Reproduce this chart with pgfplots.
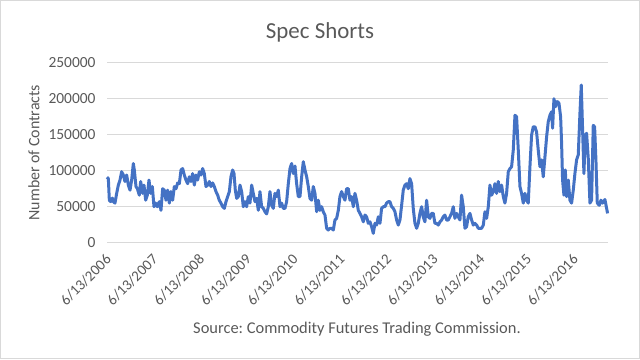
\documentclass[border=0pt]{standalone}
\usepackage{pgfplots}
\pgfplotsset{compat=1.18}
\usepackage{fontspec}
\setmainfont{Carlito}
\frenchspacing
\definecolor{exblue}{HTML}{4472C4}
\definecolor{txt}{HTML}{595959}
\definecolor{gridc}{HTML}{D9D9D9}
\begin{document}
\begin{tikzpicture}[x=1bp,y=1bp]
\useasboundingbox (0,0) rectangle (640,359);
\draw[gridc, line width=1bp] (0.5,0.5) rectangle (639.5,358.5);
\begin{axis}[
  at={(107bp,116.3bp)}, anchor=south west,
  scale only axis, width=501bp, height=180bp,
  xmin=0, xmax=10.73, ymin=0, ymax=250000,
  axis line style={draw=none},
  ytick={0,50000,100000,150000,200000,250000},
  ymajorgrids, grid style={gridc, line width=1bp},
  xtick={0,1,2,3,4,5,6,7,8,9,10},
  xticklabels={6/13/2006,6/13/2007,6/13/2008,6/13/2009,6/13/2010,6/13/2011,6/13/2012,6/13/2013,6/13/2014,6/13/2015,6/13/2016},
  major tick length=0pt,
  scaled y ticks=false,
  /pgf/number format/.cd, fixed, precision=0, 1000 sep={}, assume math mode=true, /pgfplots/.cd,
  yticklabel style={font=\fontsize{15.5}{18}\selectfont, text=txt, xshift=-8bp},
  xticklabel style={font=\fontsize{15}{18}\selectfont, text=txt, xshift=4bp, yshift=-12bp, rotate=45, anchor=east},
  clip=false,
]
\addplot[exblue, line width=3bp, line join=round] coordinates {
(0,91000)(0.029,89000)(0.050,59000)(0.079,57000)(0.114,62000)(0.136,57000)(0.171,55000)(0.207,68500)(0.243,80000)(0.278,87000)
(0.314,98600)(0.350,94000)(0.385,85000)(0.421,94000)(0.457,80000)(0.493,73000)(0.528,87000)(0.564,110000)(0.585,101000)(0.621,78000)
(0.650,75000)(0.692,66000)(0.721,85000)(0.764,68500)(0.792,80000)(0.828,59000)(0.864,66000)(0.899,87000)(0.935,68500)(0.971,78000)
(1.006,50000)(1.042,55000)(1.078,50000)(1.121,57000)(1.156,45000)(1.192,75000)(1.228,73000)(1.263,59000)(1.299,73000)(1.335,55000)
(1.370,71000)(1.406,59000)(1.442,78000)(1.478,75000)(1.513,83000)(1.549,82000)(1.585,101000)(1.620,103000)(1.656,94000)(1.692,87000)
(1.727,82000)(1.763,91600)(1.799,85000)(1.834,96000)(1.870,80000)(1.906,94000)(1.941,87000)(1.977,98600)(2.013,94000)(2.049,103000)
(2.084,96000)(2.120,78000)(2.156,80000)(2.191,85000)(2.227,78000)(2.263,83000)(2.298,78000)(2.334,71000)(2.370,66000)(2.405,59000)
(2.441,55000)(2.477,50000)(2.513,47700)(2.548,57000)(2.584,64000)(2.620,71000)(2.655,91600)(2.691,101000)(2.720,96000)(2.748,73000)
(2.777,61600)(2.812,64000)(2.848,80000)(2.884,71000)(2.919,50000)(2.955,57000)(2.991,50000)(3.026,64000)(3.062,55000)(3.098,80000)
(3.133,68500)(3.169,57000)(3.205,61600)(3.241,45000)(3.276,71000)(3.312,50000)(3.348,47700)(3.383,43000)(3.419,40000)(3.455,50000)
(3.490,71000)(3.526,52000)(3.562,47700)(3.597,68500)(3.633,64000)(3.669,73000)
(3.705,50000)(3.740,55000)(3.776,47700)(3.812,47700)(3.847,57000)(3.883,82000)(3.919,103000)(3.954,110000)(3.990,96000)(4.026,106500)
(4.061,82000)(4.097,64000)(4.133,64000)(4.169,91600)(4.204,112500)(4.240,101000)(4.276,91600)(4.311,78000)(4.347,61600)(4.383,59000)
(4.418,78000)(4.454,68500)(4.490,43000)(4.525,59000)(4.561,45000)(4.597,50000)(4.632,43000)(4.668,38400)(4.704,20000)(4.740,17600)
(4.775,20000)(4.811,20000)(4.847,17600)(4.882,31500)(4.918,33800)(4.954,45000)(4.989,64000)(5.025,71000)(5.061,64000)(5.096,59000)
(5.132,75000)(5.168,75000)(5.203,59000)(5.239,64000)(5.275,50000)(5.310,68500)(5.346,59000)(5.382,45000)(5.418,40700)(5.453,36000)
(5.489,29000)(5.525,38400)(5.560,36000)(5.596,26900)(5.632,29000)(5.667,22200)(5.703,13000)(5.739,26900)(5.774,24500)(5.810,36000)
(5.846,26900)(5.881,47700)(5.917,50000)(5.953,50000)(5.988,55000)(6.024,57000)(6.060,57000)(6.096,50000)(6.131,47700)(6.167,43000)
(6.203,31500)(6.238,24500)(6.274,31500)(6.310,52000)(6.345,73000)(6.381,80000)(6.417,82000)(6.452,75000)(6.488,89000)(6.524,82000)
(6.559,47700)(6.595,26900)(6.631,20000)(6.666,26900)(6.702,40700)(6.738,50000)(6.773,36000)(6.809,29000)(6.845,59000)(6.881,36000)
(6.916,33800)(6.952,40700)(6.988,40700)(7.023,26900)(7.059,26900)(7.095,24500)(7.130,29000)(7.166,31500)(7.202,36000)(7.237,38400)
(7.273,31500)(7.309,31500)(7.344,36000)(7.380,40700)(7.416,50000)(7.451,33800)(7.487,40700)(7.523,36000)(7.559,31500)(7.594,66000)
(7.630,50000)(7.666,20000)(7.701,22200)(7.737,36000)(7.773,40700)
(7.809,31500)(7.844,24500)(7.880,26900)(7.916,24500)(7.951,20000)(7.987,20000)(8.023,20000)(8.059,24500)(8.094,43000)(8.130,33800)
(8.166,50000)(8.201,80000)(8.237,66000)(8.273,71000)(8.308,82000)(8.344,68500)(8.380,85000)(8.415,71000)(8.451,80000)(8.487,64000)
(8.522,55000)(8.558,68500)(8.594,98600)(8.630,103000)(8.665,105500)(8.701,128700)(8.737,177000)(8.772,175000)(8.808,128700)(8.844,78000)
(8.879,68500)(8.915,55000)(8.951,68500)(8.986,59000)(9.022,55000)(9.058,105500)(9.093,149500)(9.129,161000)(9.165,161000)(9.200,154000)
(9.236,128700)(9.272,105500)(9.307,115000)(9.343,91600)(9.379,119000)(9.415,147000)(9.450,168000)(9.486,177000)(9.522,182000)(9.543,159000)
(9.572,200000)(9.607,189000)(9.643,196000)(9.679,194000)(9.715,175000)(9.736,138000)(9.757,87000)(9.786,66000)(9.815,101000)(9.843,64000)
(9.879,87000)(9.914,59000)(9.950,55000)(9.986,73000)(10.021,96000)(10.057,115000)(10.093,122000)(10.129,180000)(10.157,219000)(10.186,156000)
(10.214,96000)(10.243,149500)(10.271,152000)(10.307,117000)(10.343,55000)(10.378,59000)(10.414,163000)(10.443,161000)(10.471,115000)(10.500,55000)
(10.543,52000)(10.578,59000)(10.614,55000)(10.664,60000)(10.700,47700)(10.721,40700)
};
\end{axis}
\node[anchor=base, text=txt, font=\fontsize{23}{27}\selectfont] at (320,321) {Spec Shorts};
\node[rotate=90, text=txt, font=\fontsize{16}{19}\selectfont] at (34,206.3) {Number of Contracts};
\node[anchor=base, text=txt, font=\fontsize{16.5}{20}\selectfont] at (357,26) {Source: Commodity Futures Trading Commission.};
\end{tikzpicture}
\end{document}
